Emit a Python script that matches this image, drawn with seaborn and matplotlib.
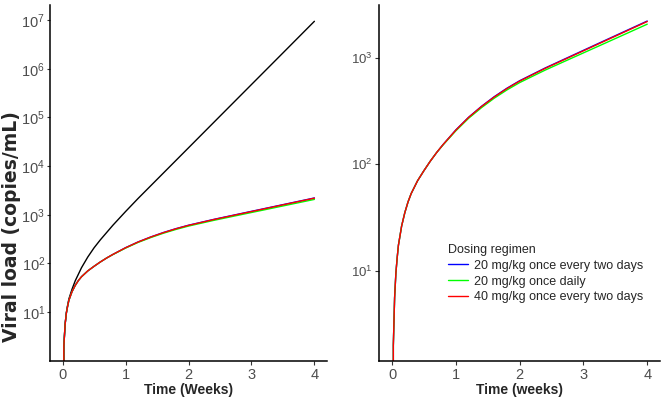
import pandas as pd
import matplotlib
matplotlib.use("Agg")
import matplotlib.pyplot as plt
import seaborn as sns

# values (copies/mL)
time_untreated = [0, 0.02, 0.04, 0.06, 0.08, 0.1, 0.15, 0.2, 0.3, 0.4, 0.5, 0.6, 0.8,
                  1.0, 1.2, 1.6, 2.0, 2.5, 3.0, 3.5, 4.0]
load_untreated = [0, 2.0, 5.6, 9.8, 13.8, 18.6, 29.5, 43.6, 81.3, 135, 209, 305, 610,
                  1161, 2163, 7161, 23700, 106000, 473000, 2110000, 9440000]

time_treated = [0, 0.02, 0.04, 0.06, 0.08, 0.1, 0.15, 0.2, 0.25, 0.3, 0.4, 0.5, 0.6,
                0.7, 0.8, 1.0, 1.2, 1.4, 1.6, 1.8, 2.0, 2.4, 2.8, 3.2, 3.6, 4.0]
load_20_q2d = [0, 2.0, 5.6, 9.5, 13.2, 17.4, 26.3, 35.1, 44.2, 53.1, 70.0, 87.1, 107,
               129, 153, 210, 276, 349, 430, 517, 608, 801, 1033, 1332, 1716, 2210]
load_20_qd = [0, 2.0, 5.6, 9.5, 13.2, 17.4, 26.3, 35.1, 44.2, 53.1, 70.0, 87.1, 107,
              129, 152, 206, 270, 339, 416, 498, 584, 765, 981, 1256, 1610, 2065]
load_40_q2d = [0, 2.0, 5.6, 9.5, 13.2, 17.4, 26.3, 35.1, 44.2, 53.1, 70.0, 87.1, 107,
               129, 153, 209, 275, 347, 427, 513, 603, 794, 1023, 1318, 1698, 2188]

regimens = ["20 mg/kg once every two days", "20 mg/kg once daily",
            "40 mg/kg once every two days"]
colors = ["#0000FF", "#00FF00", "#FF0000"]

treated = pd.concat([
    pd.DataFrame({"time": time_treated, "load": vals, "regimen": name})
    for name, vals in zip(regimens, [load_20_q2d, load_20_qd, load_40_q2d])
])
untreated = pd.DataFrame({"time": time_untreated, "load": load_untreated})

sns.set_style("white")
plt.rcParams["font.family"] = ["Liberation Sans", "DejaVu Sans"]
plt.rcParams["axes.linewidth"] = 1.1

fig = plt.figure(figsize=(6.61, 4.0), dpi=100)
ax1 = fig.add_axes([50 / 661, 39.3 / 400, 277 / 661, 355.7 / 400])
ax2 = fig.add_axes([379.3 / 661, 39.3 / 400, 280.7 / 661, 355.7 / 400])

# left: untreated + treated
sns.lineplot(data=untreated, x="time", y="load", color="black", lw=1.0,
             estimator=None, ax=ax1)
sns.lineplot(data=treated, x="time", y="load", hue="regimen", hue_order=regimens,
             palette=colors, lw=1.0, estimator=None, legend=False, ax=ax1)

# right: treated only
sns.lineplot(data=treated, x="time", y="load", hue="regimen", hue_order=regimens,
             palette=colors, lw=1.0, estimator=None, ax=ax2)

for ax, ylim, yticks in [(ax1, (1, 2.04e7), [1e1, 1e2, 1e3, 1e4, 1e5, 1e6, 1e7]),
                         (ax2, (1.43, 3126), [1e1, 1e2, 1e3])]:
    ax.set_yscale("log", nonpositive="clip")
    ax.set_ylim(*ylim)
    ax.set_yticks(yticks)
    ax.minorticks_off()
    ax.set_xlim(-0.2, 4.2)
    ax.set_xticks([0, 1, 2, 3, 4])
    for s in ["top", "right"]:
        ax.spines[s].set_visible(False)
    for s in ["left", "bottom"]:
        ax.spines[s].set_color("black")
    ax.tick_params(axis="both", which="major", length=3, width=0.8, color="#333333",
                   labelcolor="#4D4D4D", labelsize=10.5, pad=2, left=True, bottom=True)

ax1.tick_params(axis="y", labelsize=10.5, length=2.5, pad=1)
ax2.tick_params(axis="y", labelsize=9.5)

ax1.set_xlabel("Time (Weeks)", fontsize=10, fontweight="bold", labelpad=1)
ax2.set_xlabel("Time (weeks)", fontsize=10, fontweight="bold", labelpad=1)
ax1.set_ylabel("Viral load (copies/mL)", fontsize=13.5, fontweight="bold",
               family=["DejaVu Sans"])
ax1.yaxis.set_label_coords(-0.104, 0.377)
ax2.set_ylabel("")

leg = ax2.legend(title="Dosing regimen", frameon=False, fontsize=9,
                 title_fontsize=9, loc="upper left",
                 bbox_to_anchor=(448 / 661, 1 - 244 / 400),
                 bbox_transform=fig.transFigure, borderpad=0, borderaxespad=0,
                 handlelength=1.6, handletextpad=0.5, labelspacing=0.3,
                 alignment="left")
for line in leg.get_lines():
    line.set_linewidth(1.0)

fig.savefig("out.png", dpi=100)
